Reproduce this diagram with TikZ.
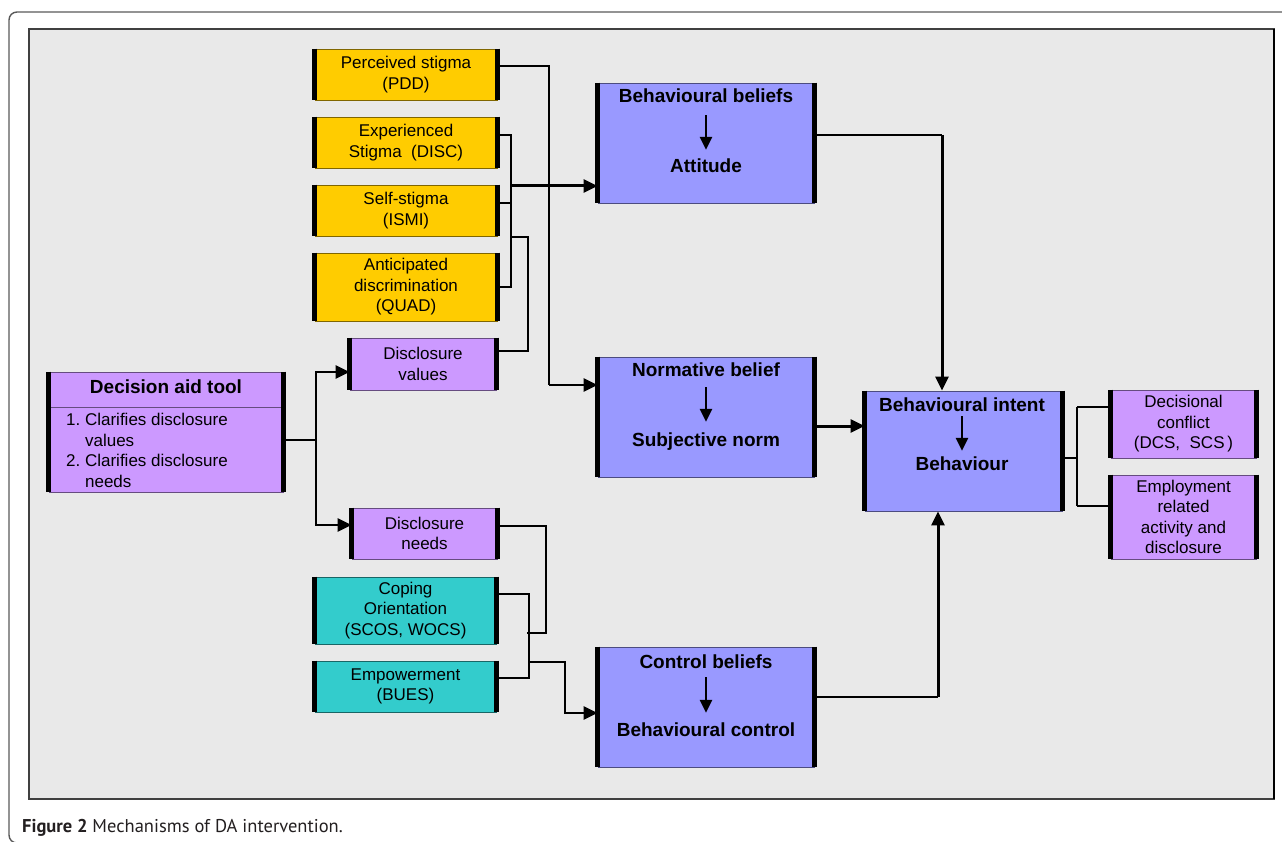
\documentclass[tikz,border=0pt]{standalone}
\usepackage{fontspec}
\setmainfont{Liberation Sans}
\newfontfamily\capfamily{PT Sans}
\usetikzlibrary{arrows.meta,calc}
\definecolor{cyel}{HTML}{FFCC00}
\definecolor{cpur}{HTML}{CC99FF}
\definecolor{cblu}{HTML}{9999FF}
\definecolor{ctea}{HTML}{33CCCC}
\definecolor{cpan}{HTML}{E9E9E9}
\definecolor{ccap}{HTML}{231F20}
\newcommand\bxfont{\fontsize{17}{20.5}\selectfont}
\newcommand\hdfont{\fontsize{19}{22}\selectfont\bfseries}
\begin{document}
\begin{tikzpicture}[x=1pt,y=-1pt,
  box/.style={draw=#1!50!black, fill=#1, line width=0.9pt, inner sep=0pt, align=center, font=\bxfont},
  hd/.style={inner sep=0pt, font=\hdfont, text height=14pt, text depth=4pt},
  ln/.style={line width=1.5pt},
  md/.style={line width=2.6pt},
  tk/.style={line width=3pt},
  arr/.style={-{Triangle[length=14pt,width=13pt]}},
  inarr/.style={line width=2.8pt,-{Triangle[length=13pt,width=12pt]}},
  sideline/.style={line width=4.5pt}
]
\path[use as bounding box] (0,0) rectangle (1282,842);
\begin{scope}
\clip (0,0) rectangle (1282,842);
\draw[black!65, line width=1.4pt, rounded corners=8pt] (9,12) rectangle (1320,843);
\end{scope}
% panel
\draw[fill=cpan, draw=black!75, line width=1.4pt] (29,29) rectangle (1274,799);
\draw[black, line width=2.4pt] (1274,29) -- (1274,799);

% stigma boxes
\node[box=cyel, minimum width=182pt, minimum height=51pt] (pdd) at (406,74.5) {Perceived stigma\\(PDD)};
\node[box=cyel, minimum width=182pt, minimum height=51pt] (disc) at (406,142.5) {Experienced\\Stigma\ \ (DISC)};
\node[box=cyel, minimum width=182pt, minimum height=51pt] (ismi) at (406,210.5) {Self-stigma\\(ISMI)};
\node[box=cyel, minimum width=182pt, minimum height=68pt] (quad) at (406,287) {Anticipated\\discrimination\\(QUAD)};
% disclosure boxes
\node[box=cpur, minimum width=146pt, minimum height=52pt] (dval) at (423,364) {Disclosure\\values};
\node[box=cpur, minimum width=145pt, minimum height=51pt] (dneed) at (424.5,533.5) {Disclosure\\needs};
% coping
\node[box=ctea, minimum width=181pt, minimum height=67pt] (cope) at (405.5,610.5) {Coping\\Orientation\\(SCOS, WOCS)};
\node[box=ctea, minimum width=181pt, minimum height=51pt] (emp) at (405.5,686.5) {Empowerment\\(BUES)};
% decision aid
\node[box=cpur, minimum width=234pt, minimum height=120pt] (da) at (166,432) {};
\node[hd] (dat) at (166,388) {Decision aid tool};
\draw[draw=cpur!50!black, line width=0.9pt] (da.west |- 0,407) -- (da.east |- 0,407);
\node[inner sep=0pt, font=\bxfont, anchor=north west] (dal) at (66,411) {\begin{tabular}{@{}r@{\ }l@{}}1.&Clarifies disclosure\\&values\\2.&Clarifies disclosure\\&needs\end{tabular}};
% TPB boxes
\node[box=cblu, minimum width=216pt, minimum height=120pt] (bb) at (706,143) {};
\node[hd] (bbt) at (706,98) {Behavioural beliefs};
\node[hd] (bba) at (706,168) {Attitude};
\draw[inarr] ([yshift=-8pt]bbt.south) -- ([yshift=9pt]bba.north);

\node[box=cblu, minimum width=216pt, minimum height=120pt] (nb) at (706,417) {};
\node[hd] (nbt) at (706,371) {Normative belief};
\node[hd] (nbb) at (706,441) {Subjective norm};
\draw[inarr] ([yshift=-7pt]nbt.south) -- ([yshift=10pt]nbb.north);

\node[box=cblu, minimum width=216pt, minimum height=120pt] (cb) at (706,707) {};
\node[hd] (cbt) at (706,663) {Control beliefs};
\node[hd] (cbb) at (706,731) {Behavioural control};
\draw[inarr] ([yshift=-5pt]cbt.south) -- ([yshift=9pt]cbb.north);

\node[box=cblu, minimum width=197pt, minimum height=120pt] (bi) at (963.5,451) {};
\node[hd] (bit) at (962,406) {Behavioural intent};
\node[hd] (bib) at (962,465) {Behaviour};
\draw[inarr] ([yshift=-1pt]bit.south) -- ([yshift=5pt]bib.north);
% outcome boxes
\node[box=cpur, minimum width=145pt, minimum height=68pt] (dc) at (1183.5,424) {Decisional\\conflict\\(DCS,\ \ SCS\,)};
\node[box=cpur, minimum width=145pt, minimum height=84pt] (emr) at (1183.5,517) {Employment\\related\\activity and\\disclosure};

% thick side borders
\foreach \n in {pdd,disc,ismi,quad,dval,dneed,cope,emp,da,bb,nb,cb,bi,dc,emr}{
  \draw[sideline] (\n.north west) -- (\n.south west) (\n.north east) -- (\n.south east);
}

% connectors
\coordinate (j1) at (549,385);
\draw[ln] (pdd.east |- 0,66) -- (549,66) -- (j1);
\draw[md,arr] (j1) -- (nb.west |- j1);

\coordinate (j2) at (511,186);
\draw[ln] (disc.east |- 0,135) -- (511,135) -- (511,287) -- (quad.east |- 0,287);
\draw[ln] (ismi.east |- 0,203) -- (511,203);
\draw[tk,arr] (j2) -- (bb.west |- j2);

\draw[md] (dval.east |- 0,351) -- (528,351) -- (528,237) -- (511,237);

\coordinate (j3) at (316,440);
\draw[ln] (da.east |- j3) -- (j3);
\draw[md,arr] (j3) |- (dval.west |- 0,372);
\draw[md,arr] (j3) |- (dneed.west |- 0,525);

\draw[ln] (dneed.east |- 0,526) -- (546,526) -- (546,633) -- (527,633);
\draw[ln] (cope.east |- 0,594) -- (529,594) -- (529,678) -- (emp.east |- 0,678);
\coordinate (j4) at (529,662);
\draw[md,arr] (j4) -- (565,662) -- (565,713) -- (cb.west |- 0,713);

\draw[ln] (bb.east |- 0,135) -- (942,135);
\draw[tk,arr] (942,135) -- (bi.north -| 942,0);
\draw[tk,arr] (nb.east |- 0,426) -- (bi.west |- 0,426);
\draw[ln] (cb.east |- 0,697) -- (938,697);
\draw[tk,arr] (938,697) -- (bi.south -| 938,0);

\coordinate (j5) at (1077,458);
\draw[ln] (bi.east |- j5) -- (j5);
\draw[ln] (1077,407) -- (1077,506);
\draw[ln] (1077,407) -- (dc.west |- 0,407);
\draw[ln] (1077,506) -- (emr.west |- 0,506);

% caption
\node[anchor=base west, inner sep=0pt, font=\capfamily\fontsize{18.5}{22}\selectfont, text=ccap] (cap) at (22,832) {\textbf{Figure 2} Mechanisms of DA intervention.};
\end{tikzpicture}
\end{document}
